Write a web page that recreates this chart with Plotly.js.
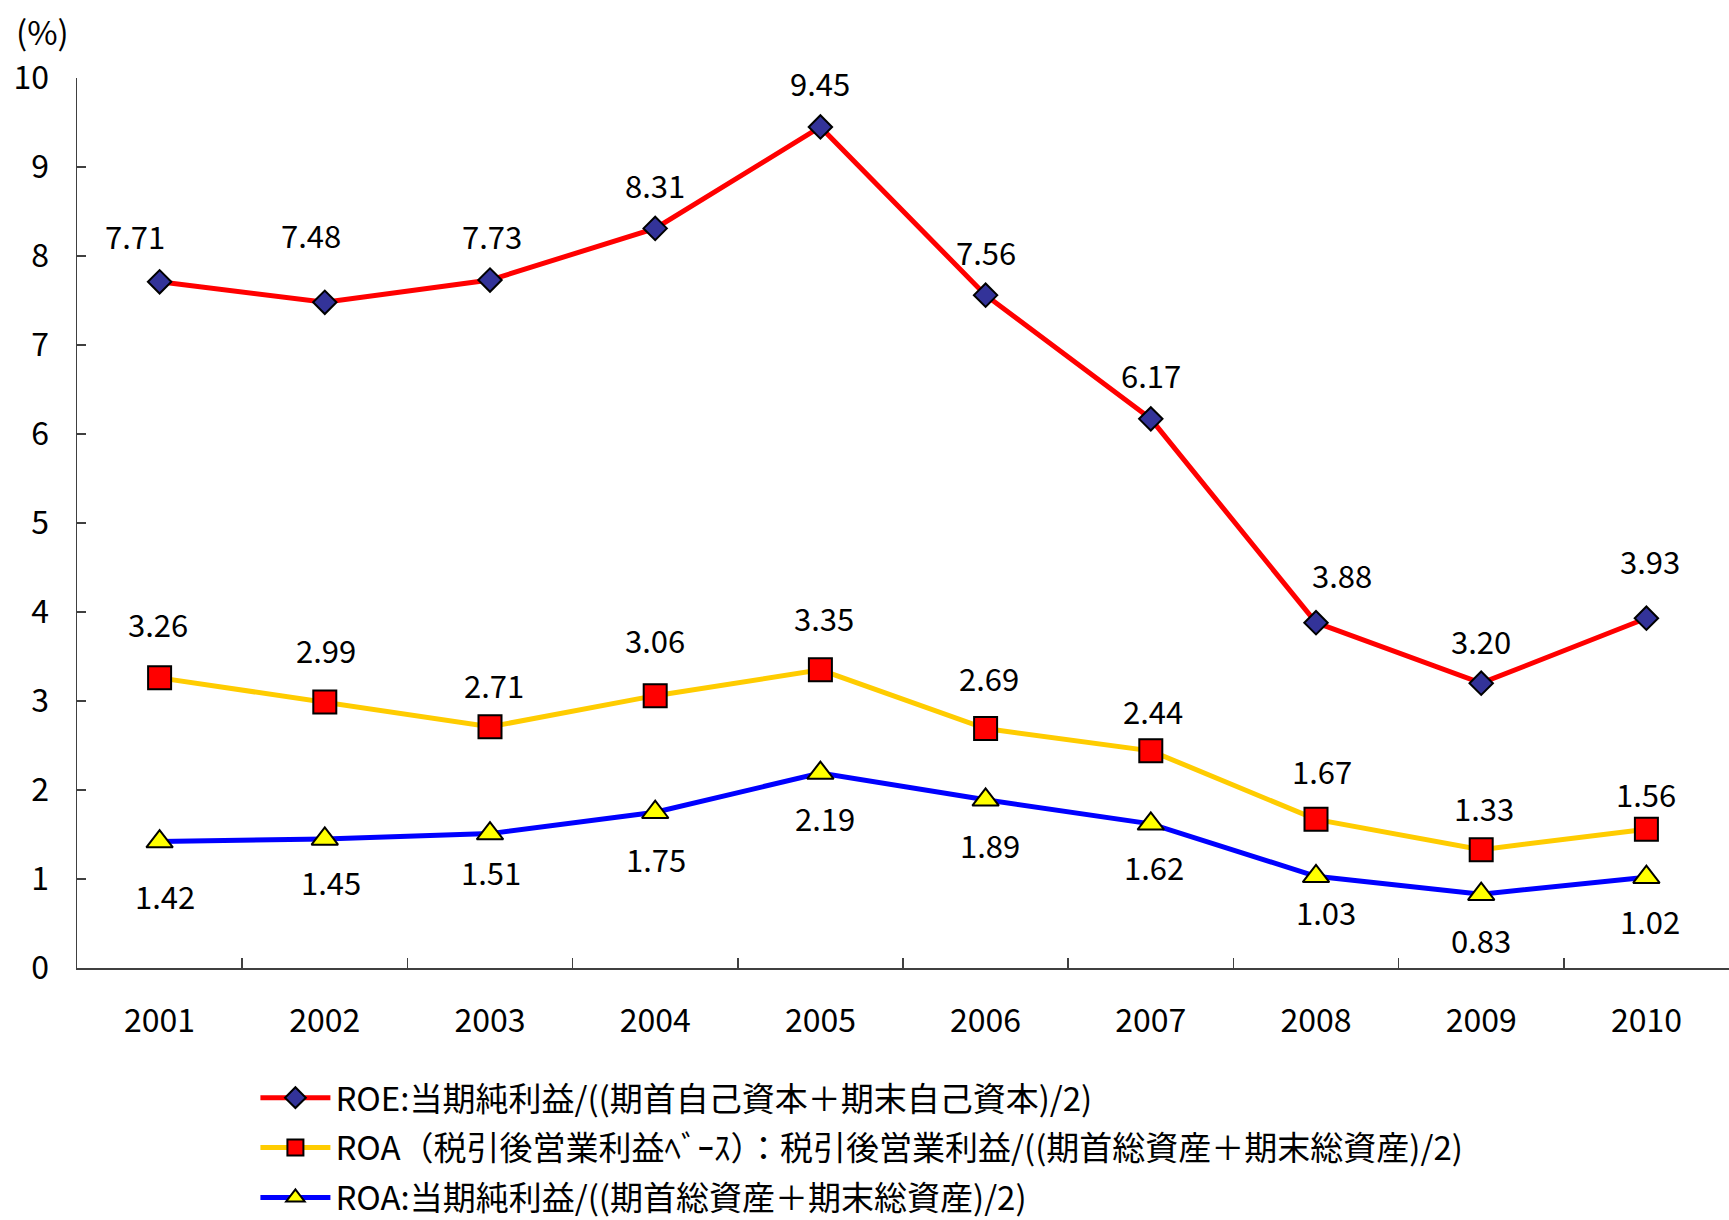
<!DOCTYPE html>
<html>
<head>
<meta charset="utf-8">
<script src="https://cdn.plot.ly/plotly-3.0.1.min.js"></script>
<style>
html,body{margin:0;padding:0;background:#fff;}
#chart{width:1729px;height:1220px;}
</style>
</head>
<body>
<div id="chart"></div>
<script>
// ---- data ----
const years = ['2001','2002','2003','2004','2005','2006','2007','2008','2009','2010'];
const roe = [7.71, 7.48, 7.73, 8.31, 9.45, 7.56, 6.17, 3.88, 3.20, 3.93];
const roaOp = [3.26, 2.99, 2.71, 3.06, 3.35, 2.69, 2.44, 1.67, 1.33, 1.56];
const roaNet = [1.42, 1.45, 1.51, 1.75, 2.19, 1.89, 1.62, 1.03, 0.83, 1.02];
const seriesNames = [
  'ROE:当期純利益/((期首自己資本＋期末自己資本)/2)',
  'ROA（税引後営業利益ﾍﾞｰｽ）：税引後営業利益/((期首総資産＋期末総資産)/2)',
  'ROA:当期純利益/((期首総資産＋期末総資産)/2)'
];
const yTickVals = [0,1,2,3,4,5,6,7,8,9,10];

// ---- label nudges (pixels, relative to each point) ----
const roeLabelShift = [[-25,46],[-14,68],[2,45],[0,44],[0,44],[0,44],[0,44],[26,48],[0,43],[4,58]];
const roaOpLabelShift = [[-2,54],[1,52],[4,42],[0,56],[4,52],[3,51],[2,40],[6,49],[3,42],[0,36]];
const roaNetLabelShift = [[5,-54],[6,-43],[1,-38],[1,-46],[5,-44],[4,-45],[3,-43],[10,-35],[0,-45],[4,-43]];

const FONT = '"Noto Sans CJK JP", "Noto Sans", sans-serif';

const traces = [
  {
    x: years, y: roe, name: seriesNames[0], type: 'scatter', mode: 'lines+markers',
    legendgroup: 'a',
    line: {color: '#FF0000', width: 5},
    marker: {symbol: 'diamond', size: 18, color: '#333399', line: {color: '#000', width: 2}}
  },
  {
    x: years, y: roaOp, name: seriesNames[1], type: 'scatter', mode: 'lines+markers',
    legendgroup: 'b',
    line: {color: '#FFCC00', width: 5},
    marker: {symbol: 'square', size: 23, color: '#FF0000', line: {color: '#000', width: 2}}
  },
  {
    x: years, y: roaNet, name: seriesNames[2], type: 'scatter', mode: 'lines+markers',
    legendgroup: 'c',
    line: {color: '#0000FF', width: 5},
    marker: {symbol: 'triangle-up', size: 23, color: '#FFFF00', line: {color: '#000', width: 2}}
  }
];

const annotations = [];
function addLabels(vals, shifts) {
  vals.forEach((v, i) => {
    annotations.push({
      x: i, y: v, xref: 'x', yref: 'y',
      text: v.toFixed(2), showarrow: false,
      xanchor: 'center', yanchor: 'middle',
      xshift: shifts[i][0], yshift: shifts[i][1],
      font: {family: FONT, size: 31, color: '#000'}
    });
  });
}
addLabels(roe, roeLabelShift);
addLabels(roaOp, roaOpLabelShift);
addLabels(roaNet, roaNetLabelShift);

annotations.push({
  xref: 'paper', yref: 'paper', x: -0.021, y: 1.053,
  xanchor: 'center', yanchor: 'middle',
  text: '(%)', showarrow: false,
  font: {family: FONT, size: 33, color: '#000'}
});

const layout = {
  width: 1729, height: 1220,
  margin: {l: 77, r: 0, t: 78, b: 252, autoexpand: false},
  paper_bgcolor: '#fff', plot_bgcolor: '#fff',
  font: {family: FONT, size: 31, color: '#000'},
  showlegend: true,
  legend: {
    x: 0.108, y: -0.1143, xanchor: 'left', yanchor: 'top',
    font: {family: FONT, size: 33, color: '#000'},
    itemwidth: 70, maxheight: 400,
    tracegroupgap: 4, bgcolor: 'rgba(0,0,0,0)'
  },
  xaxis: {
    type: 'category', range: [-0.5, 9.5],
    showline: true, linecolor: '#404040', linewidth: 1.5,
    ticks: 'inside', tickson: 'boundaries', ticklen: 10, tickcolor: '#404040', tickwidth: 1.5,
    showgrid: false, zeroline: false,
    ticklabelstandoff: 24,
    tickfont: {family: FONT, size: 32, color: '#000'}
  },
  yaxis: {
    range: [0, 10], tickvals: yTickVals, ticktext: yTickVals.map(String),
    showline: true, linecolor: '#404040', linewidth: 1.5,
    ticks: 'inside', ticklen: 9, tickcolor: '#404040', tickwidth: 1.5,
    showgrid: false, zeroline: false,
    ticklabelstandoff: 20,
    tickfont: {family: FONT, size: 32, color: '#000'}
  },
  annotations: annotations
};

Plotly.newPlot('chart', traces, layout, {displayModeBar: false, staticPlot: true});
</script>
</body>
</html>
